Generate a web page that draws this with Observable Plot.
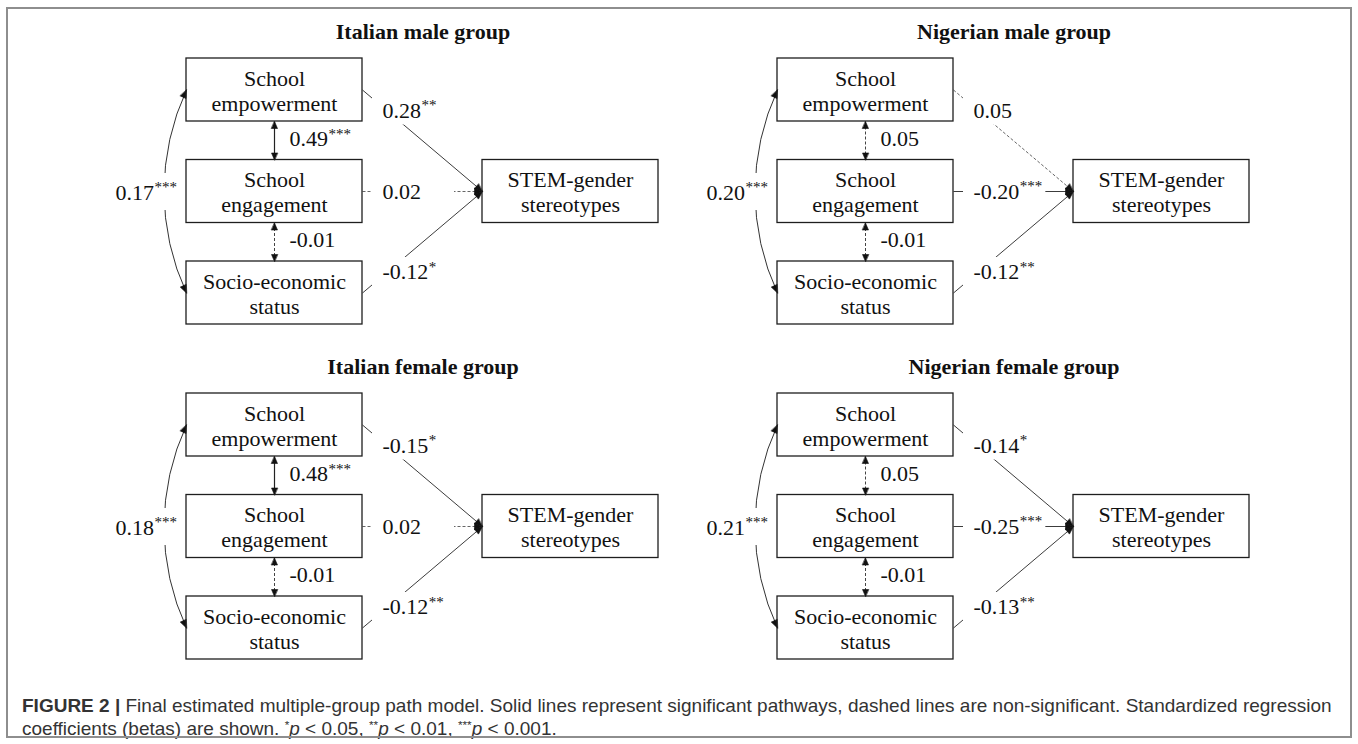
<!DOCTYPE html>
<html><head><meta charset="utf-8">
<script src="https://cdn.jsdelivr.net/npm/d3@7"></script>
<script src="https://cdn.jsdelivr.net/npm/@observablehq/plot@0.6"></script>
<style>
html,body{margin:0;padding:0;background:#fff;}
#chart{position:absolute;left:0;top:0;}
#frame{position:absolute;left:6px;top:7px;width:1346px;height:731px;border:2px solid #8e8e8e;box-sizing:border-box;pointer-events:none;}
#caption{position:absolute;left:22px;top:694px;font-family:"Liberation Sans",Arial,sans-serif;font-size:19px;line-height:23px;color:#333;white-space:nowrap;}
#caption sup{font-size:62%;line-height:0;vertical-align:0.55em;}
</style></head><body>
<div id="chart"></div>
<div id="caption"><b>FIGURE 2 |</b> Final estimated multiple-group path model. Solid lines represent significant pathways, dashed lines are non-significant. Standardized regression<br>coefficients (betas) are shown. <sup>*</sup><i>p</i> &lt; 0.05, <sup>**</sup><i>p</i> &lt; 0.01, <sup>***</sup><i>p</i> &lt; 0.001.</div>
<div id="frame"></div>
<script>
// ---------- data ----------
const groups = ["Italian male group", "Nigerian male group", "Italian female group", "Nigerian female group"];
const predictorLabels = ["School\nempowerment", "School\nengagement", "Socio-economic\nstatus"];
const outcomeLabel = "STEM-gender\nstereotypes";
const pathBetas = [[0.28, 0.02, -0.12], [0.05, -0.20, -0.12], [-0.15, 0.02, -0.12], [-0.14, -0.25, -0.13]];
const pathStars = [["**", "", "*"], ["", "***", "**"], ["*", "", "**"], ["*", "***", "**"]];
const corEmpEngBetas = [0.49, 0.05, 0.48, 0.05];
const corEmpEngStars = ["***", "", "***", ""];
const corEngSesBetas = [-0.01, -0.01, -0.01, -0.01];
const corEngSesStars = ["", "", "", ""];
const corEmpSesBetas = [0.17, 0.20, 0.18, 0.21];
const corEmpSesStars = ["***", "***", "***", "***"];

// ---------- layout ----------
const W = 1358, H = 680;
const panelDX = [0, 591, 0, 591], panelDY = [0, 0, 335, 335];
const BOX_W = 176, BOX_H = 63, PRED_X = 186, PRED_TOPS = [58, 159.5, 261], OUT_X = 482, OUT_TOP = 159.5;
const FONT = "Liberation Serif";
const FS = 22, STAR_FS = 15;

const ctx = document.createElement("canvas").getContext("2d");
function tw(s, size, weight) { ctx.font = `${weight || ""} ${size}px '${FONT}'`; return ctx.measureText(s).width; }
const fmt = v => (v < 0 ? "-" : "") + Math.abs(v).toFixed(2);

const boxes = [], titles = [], paths = [], verts = [], curves = [], heads = [], labels = [], gaps = [];
let hid = 0;
function head(tx, ty, dx, dy, len, hw) {
  const m = Math.hypot(dx, dy); dx /= m; dy /= m;
  const nx = -dy, ny = dx, id = hid++;
  heads.push({id, x: tx, y: ty});
  heads.push({id, x: tx - len * dx + hw * nx, y: ty - len * dy + hw * ny});
  heads.push({id, x: tx - len * dx - hw * nx, y: ty - len * dy - hw * ny});
}
function addLabel(x, y, v, s) {
  const num = fmt(v), w = tw(num, FS) + (s ? tw(s, STAR_FS) : 0);
  const L = {x, y, num, stars: s, sx: x + tw(num, FS) + 0.5, w};
  labels.push(L);
  return L;
}

groups.forEach((g, k) => {
  const px = panelDX[k], py = panelDY[k];
  titles.push({x: px + 422.5, y: py + 31, text: g});
  PRED_TOPS.forEach((t, i) => boxes.push({x1: px + PRED_X, x2: px + PRED_X + BOX_W, y1: py + t, y2: py + t + BOX_H, label: predictorLabels[i]}));
  boxes.push({x1: px + OUT_X, x2: px + OUT_X + BOX_W, y1: py + OUT_TOP, y2: py + OUT_TOP + BOX_H, label: outcomeLabel});
  // regression paths
  const tx = px + OUT_X, ty = py + OUT_TOP + BOX_H / 2;
  PRED_TOPS.forEach((t, i) => {
    const sx = px + PRED_X + BOX_W, sy = py + t + BOX_H / 2;
    paths.push({x1: sx, y1: sy, x2: tx, y2: ty, sig: pathStars[k][i] !== ""});
    head(tx, ty, tx - sx, ty - sy, 8, 3.2);
    const ly = sy + (i === 0 ? 20.5 : i === 2 ? -21 : 0);
    const L = addLabel(sx + 20, ly, pathBetas[k][i], pathStars[k][i]);
    gaps.push({x1: L.x - 10, x2: L.x + Math.max(72, L.w + 4), y1: ly - 14.5, y2: ly + 14.5});
  });
  // vertical correlations
  const cx = px + PRED_X + BOX_W / 2;
  [[0, corEmpEngBetas[k], corEmpEngStars[k]], [1, corEngSesBetas[k], corEngSesStars[k]]].forEach(([i, v, s]) => {
    const y1 = py + PRED_TOPS[i] + BOX_H, y2 = py + PRED_TOPS[i + 1];
    verts.push({x1: cx, y1, x2: cx, y2, sig: s !== ""});
    head(cx, y1, 0, -1, 7, 3);
    head(cx, y2, 0, 1, 7, 3);
    addLabel(cx + 15, (y1 + y2) / 2 - 2, v, s);
  });
  // curved correlation
  const ax = px + PRED_X, ay1 = py + PRED_TOPS[0] + BOX_H / 2, ay2 = py + PRED_TOPS[2] + BOX_H / 2;
  curves.push({x1: ax, y1: ay1, x2: ax, y2: ay2});
  const b = 25 * Math.PI / 180;
  head(ax, ay1, Math.sin(b), -Math.cos(b), 8, 3.2);
  head(ax, ay2, Math.sin(b), Math.cos(b), 8, 3.2);
  const mid = (ay1 + ay2) / 2 + 1;
  const numW = tw(fmt(corEmpSesBetas[k]), FS) + tw(corEmpSesStars[k], STAR_FS);
  const L = addLabel(ax - 10 - numW, mid, corEmpSesBetas[k], corEmpSesStars[k]);
  gaps.push({x1: L.x - 4, x2: L.x + L.w + 3, y1: mid - 19, y2: mid + 18});
});

const chart = Plot.plot({
  width: W, height: H, margin: 0,
  x: {domain: [0, W], range: [0, W], axis: null},
  y: {domain: [0, H], range: [0, H], axis: null},
  style: {background: "white"},
  marks: [
    Plot.link(paths.filter(d => d.sig), {x1: "x1", y1: "y1", x2: "x2", y2: "y2", stroke: "#3c3c3c", strokeWidth: 1}),
    Plot.link(paths.filter(d => !d.sig), {x1: "x1", y1: "y1", x2: "x2", y2: "y2", stroke: "#666", strokeWidth: 1, strokeDasharray: "3,2"}),
    Plot.link(verts.filter(d => d.sig), {x1: "x1", y1: "y1", x2: "x2", y2: "y2", stroke: "#222", strokeWidth: 1.2}),
    Plot.link(verts.filter(d => !d.sig), {x1: "x1", y1: "y1", x2: "x2", y2: "y2", stroke: "#444", strokeWidth: 1, strokeDasharray: "3,2"}),
    Plot.arrow(curves, {x1: "x1", y1: "y1", x2: "x2", y2: "y2", bend: -25, headLength: 0, stroke: "#333", strokeWidth: 1}),
    Plot.rect(gaps, {x1: "x1", x2: "x2", y1: "y1", y2: "y2", fill: "white"}),
    Plot.line(heads, {x: "x", y: "y", z: "id", fill: "#111", stroke: "#111", strokeWidth: 0.6, curve: "linear-closed"}),
    Plot.rect(boxes, {x1: "x1", x2: "x2", y1: "y1", y2: "y2", fill: "none", stroke: "#1e1e1e", strokeWidth: 1.3}),
    Plot.text(boxes, {x: d => (d.x1 + d.x2) / 2, y: d => (d.y1 + d.y2) / 2, text: "label", fontSize: FS, fontFamily: FONT, lineHeight: 25 / 22, fill: "#111"}),
    Plot.text(titles, {x: "x", y: "y", text: "text", fontSize: FS, fontWeight: "bold", fontFamily: FONT, fill: "#111"}),
    Plot.text(labels, {x: "x", y: "y", text: "num", textAnchor: "start", fontSize: FS, fontFamily: FONT, fill: "#111"}),
    Plot.text(labels.filter(d => d.stars), {x: "sx", y: "y", text: "stars", textAnchor: "start", fontSize: STAR_FS, dy: -5, fontFamily: FONT, fill: "#111"})
  ]
});
document.getElementById("chart").append(chart);
</script>
</body></html>
